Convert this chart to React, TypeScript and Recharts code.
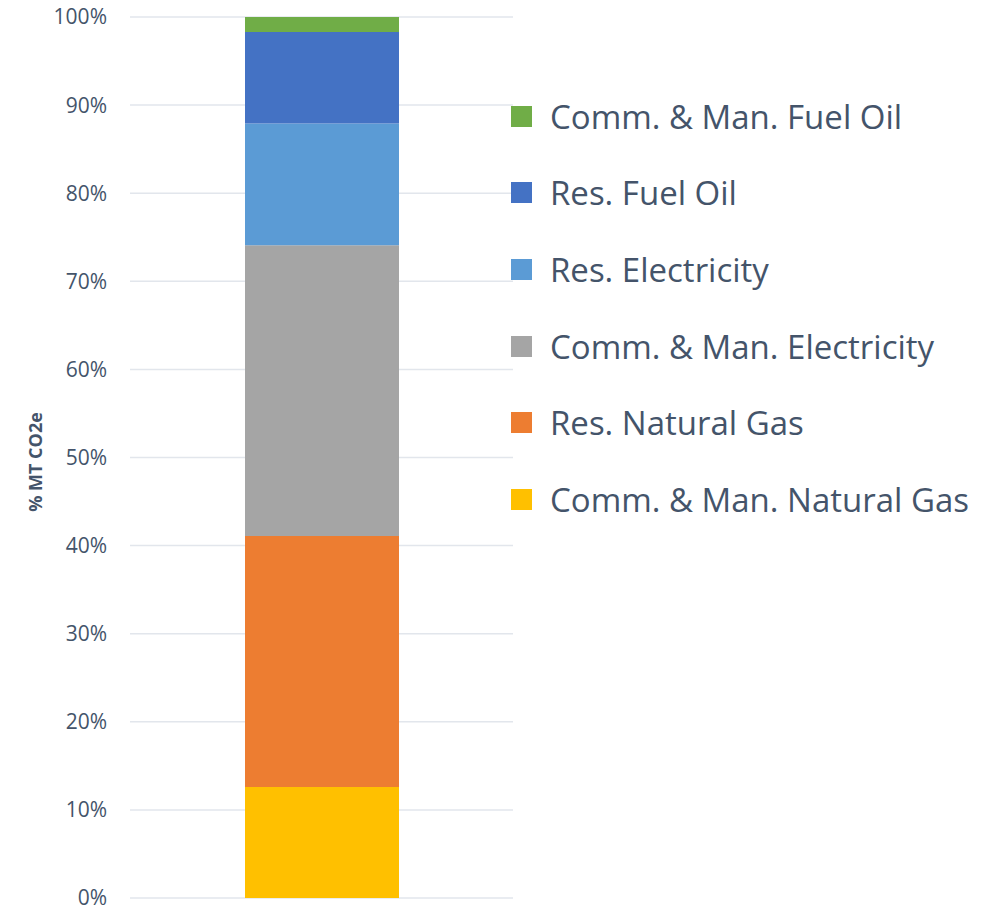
import React from 'react';
import { BarChart, Bar, XAxis, YAxis, CartesianGrid } from 'recharts';

const categories = ['Total'];
const seriesNames = [
  'Comm. & Man. Natural Gas',
  'Res. Natural Gas',
  'Comm. & Man. Electricity',
  'Res. Electricity',
  'Res. Fuel Oil',
  'Comm. & Man. Fuel Oil',
];
const seriesValues = [12.6, 28.5, 33.0, 13.8, 10.4, 1.7];
const seriesColors = ['#ffc000', '#ed7d31', '#a5a5a5', '#5b9bd5', '#4472c4', '#70ad47'];
const yTicks = [0, 10, 20, 30, 40, 50, 60, 70, 80, 90, 100];

const textColor = '#44546a';
const font = '"Open Sans", sans-serif';

// one row per category, one key per series
const chartData = categories.map((name) => {
  const row: Record<string, number | string> = { name };
  seriesNames.forEach((s, i) => {
    row[s] = seriesValues[i];
  });
  return row;
});

function LegendBox() {
  // Excel lists stacked series top to bottom in reverse order
  const items = seriesNames.map((s, i) => ({ name: s, color: seriesColors[i] })).reverse();
  return (
    <div style={{ position: 'absolute', left: 511, top: 78, fontFamily: font }}>
      {items.map((it) => (
        <div key={it.name} style={{ display: 'flex', alignItems: 'center', height: 76.6 }}>
          <span style={{ width: 21, height: 21, background: it.color, display: 'inline-block', marginRight: 18 }} />
          <span style={{ fontSize: 33, color: textColor, whiteSpace: 'nowrap' }}>{it.name}</span>
        </div>
      ))}
    </div>
  );
}

function AxisTitle() {
  return (
    <text
      x={35}
      y={462}
      transform="rotate(-90 35 462)"
      textAnchor="middle"
      dominantBaseline="central"
      fill={textColor}
      fontFamily={font}
      fontSize={18}
      fontWeight="bold"
    >
      % MT CO2e
    </text>
  );
}

export default function App() {
  return (
    <div style={{ position: 'absolute', left: 0, top: 0, width: 989, height: 909, background: '#fff' }}>
      <BarChart
        width={989}
        height={909}
        data={chartData}
        margin={{ top: 17, right: 476, left: 50, bottom: 11 }}
      >
        <CartesianGrid vertical={false} stroke="#e2e6ec" strokeWidth={1.5} />
        <XAxis dataKey="name" hide />
        <YAxis
          width={80}
          domain={[0, 100]}
          ticks={yTicks}
          interval={0}
          tickFormatter={(v) => `${v}%`}
          axisLine={false}
          tickLine={false}
          tickSize={0}
          tickMargin={23}
          tick={{ fill: textColor, fontSize: 21, fontFamily: font }}
          label={<AxisTitle />}
        />
        {seriesNames.map((s, i) => (
          <Bar
            key={s}
            dataKey={s}
            stackId="a"
            fill={seriesColors[i]}
            barSize={154}
            isAnimationActive={false}
          />
        ))}
      </BarChart>
      <LegendBox />
    </div>
  );
}
